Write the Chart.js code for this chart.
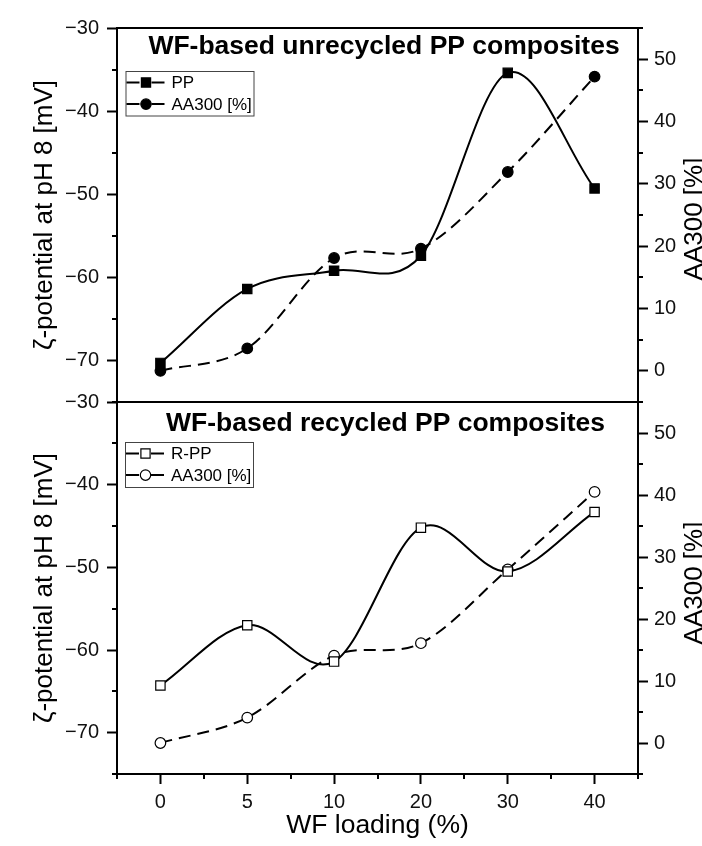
<!DOCTYPE html>
<html>
<head>
<meta charset="utf-8">
<script src="https://cdn.jsdelivr.net/npm/chart.js@4.4.0/dist/chart.umd.min.js"></script>
<style>
html,body{margin:0;padding:0;background:#fff;}
#wrap{position:relative;width:702px;height:846px;overflow:hidden;background:#fff;}
#wrap canvas{position:absolute;left:0;top:0;}
</style>
</head>
<body>
<div id="wrap">
<canvas id="cTop" width="702" height="846"></canvas>
<canvas id="cBot" width="702" height="846"></canvas>
</div>
<script>
// ---- data ----
const categories = ['0', '5', '10', '20', '30', '40'];
const ppZeta     = [-70.3, -61.4, -59.2, -57.4, -35.4, -49.3];
const ppAA300    = [0.0, 3.6, 18.1, 19.6, 31.9, 47.2];
const rppZeta    = [-64.3, -57.0, -61.4, -45.2, -50.5, -43.3];
const rppAA300   = [0.0, 4.1, 14.1, 16.1, 28.0, 40.5];

const zetaTicks  = [-70, -60, -50, -40, -30];
const aaTicks    = [0, 10, 20, 30, 40, 50];
const zetaMin = -75, zetaMax = -30;
const aaMin = -5, aaMax = 55;

const topTitle = 'WF-based unrecycled PP composites';
const botTitle = 'WF-based recycled PP composites';
const leftAxisTitle = 'ζ-potential at pH 8 [mV]';
const rightAxisTitle = 'AA300 [%]';
const xAxisTitle = 'WF loading (%)';
const topLegend = ['PP', 'AA300 [%]'];
const botLegend = ['R-PP', 'AA300 [%]'];

const FONT = '"Liberation Sans", Arial, Helvetica, sans-serif';
Chart.defaults.font.family = FONT;
Chart.defaults.color = '#000';

function fmtZeta(v) { return v < 0 ? '\u2212' + Math.abs(v) : String(v); }

// uniform Catmull-Rom style smoothing of the line drawn by Chart.js
const smoothPlugin = {
  id: 'smoothCR',
  beforeDatasetDraw(chart, args) {
    const meta = args.meta;
    const line = meta.dataset;
    const pts = meta.data;
    const n = pts.length;
    for (let i = 0; i < n; i++) {
      const p = pts[i];
      const prev = i > 0 ? pts[i - 1] : null;
      const next = i < n - 1 ? pts[i + 1] : null;
      let mx, my;
      if (prev && next) { mx = (next.x - prev.x) / 2; my = (next.y - prev.y) / 2; }
      else if (next) { mx = next.x - p.x; my = next.y - p.y; }
      else { mx = p.x - prev.x; my = p.y - prev.y; }
      p.cp1x = p.x - mx / 3; p.cp1y = p.y - my / 3;
      p.cp2x = p.x + mx / 3; p.cp2y = p.y + my / 3;
    }
    line._pointsUpdated = true;
    line._path = undefined;
  }
};

function drawMarker(ctx, style, filled, x, y) {
  ctx.save();
  ctx.lineWidth = 1.2;
  ctx.strokeStyle = '#000';
  ctx.fillStyle = filled ? '#000' : '#fff';
  ctx.beginPath();
  if (style === 'rect') {
    ctx.rect(x - 4.6, y - 4.6, 9.2, 9.2);
  } else {
    ctx.arc(x, y, 5.2, 0, Math.PI * 2);
  }
  ctx.fill();
  ctx.stroke();
  ctx.restore();
}

function makeDecor(cfg) {
  return {
    id: 'decor',
    afterDraw(chart) {
      const ctx = chart.ctx;
      const a = chart.chartArea;
      ctx.save();
      ctx.strokeStyle = '#000';
      ctx.lineWidth = 2;
      ctx.beginPath();
      ctx.moveTo(a.left - 1, Math.round(a.top));
      ctx.lineTo(a.right + 1, Math.round(a.top));
      if (cfg.drawBottomLine) {
        ctx.moveTo(a.left - 1, Math.round(a.bottom));
        ctx.lineTo(a.right + 1, Math.round(a.bottom));
      }
      ctx.stroke();

      // minor ticks on y axes
      ctx.lineWidth = 2;
      ['yL', 'yR'].forEach(id => {
        const s = chart.scales[id];
        for (let v = Math.ceil(s.min / 5) * 5; v <= s.max + 1e-9; v += 5) {
          if (Math.abs(v % 10) < 1e-9) continue;
          const y = Math.round(s.getPixelForValue(v));
          ctx.beginPath();
          if (id === 'yL') { ctx.moveTo(a.left, y); ctx.lineTo(a.left - 5, y); }
          else { ctx.moveTo(a.right, y); ctx.lineTo(a.right + 5, y); }
          ctx.stroke();
        }
      });
      // minor ticks on x axis
      if (cfg.xMinor) {
        const sx = chart.scales.x;
        for (let i = -1; i < categories.length; i++) {
          const x = Math.round(sx.getPixelForValue(i + 0.5));
          ctx.beginPath();
          ctx.moveTo(x, a.bottom);
          ctx.lineTo(x, a.bottom + 5);
          ctx.stroke();
        }
      }

      // panel title
      ctx.fillStyle = '#000';
      ctx.font = 'bold 26.5px ' + FONT;
      ctx.textAlign = 'center';
      ctx.textBaseline = 'alphabetic';
      ctx.fillText(cfg.title, cfg.titleX, cfg.titleY);

      // legend
      const L = cfg.legend;
      ctx.fillStyle = '#fff';
      ctx.fillRect(L.x, L.y, L.w, L.h);
      ctx.strokeStyle = '#444';
      ctx.lineWidth = 1;
      ctx.strokeRect(L.x + 0.5, L.y + 0.5, L.w, L.h);
      ctx.font = '17px ' + FONT;
      ctx.textAlign = 'left';
      ctx.textBaseline = 'middle';
      L.items.forEach((it, k) => {
        const yy = L.y + 11.5 + k * 21.6;
        ctx.strokeStyle = '#000';
        ctx.lineWidth = 2;
        ctx.beginPath();
        ctx.moveTo(L.x + 1, yy); ctx.lineTo(L.x + 14, yy);
        ctx.moveTo(L.x + 26, yy); ctx.lineTo(L.x + 39, yy);
        ctx.stroke();
        drawMarker(ctx, it.style, it.filled, L.x + 20.5, yy);
        ctx.fillStyle = '#000';
        ctx.fillText(it.text, L.x + 46, yy + 1);
      });

      // axis titles
      ctx.font = '26px ' + FONT;
      ctx.textAlign = 'center';
      ctx.textBaseline = 'alphabetic';
      ctx.save();
      ctx.translate(52, cfg.leftTitleY);
      ctx.rotate(-Math.PI / 2);
      ctx.fillText(leftAxisTitle, 0, 0);
      ctx.restore();
      ctx.save();
      ctx.translate(701.5, cfg.rightTitleY);
      ctx.rotate(-Math.PI / 2);
      ctx.fillText(rightAxisTitle, 0, 0);
      ctx.restore();
      if (cfg.xTitle) {
        ctx.font = '26.5px ' + FONT;
        ctx.fillText(xAxisTitle, (a.left + a.right) / 2, 833);
      }
      ctx.restore();
    }
  };
}

function yScales() {
  return {
    yL: {
      type: 'linear', position: 'left', min: zetaMin, max: zetaMax,
      afterBuildTicks: s => { s.ticks = zetaTicks.map(v => ({ value: v })); },
      afterFit: s => { s.width = 117; },
      border: { display: true, color: '#000', width: 2 },
      grid: { drawOnChartArea: false, drawTicks: true, tickLength: 10, tickWidth: 2, tickColor: '#000', color: '#000' },
      ticks: { font: { size: 20 }, color: '#111', padding: 8, callback: v => fmtZeta(v) }
    },
    yR: {
      type: 'linear', position: 'right', min: aaMin, max: aaMax,
      afterBuildTicks: s => { s.ticks = aaTicks.map(v => ({ value: v })); },
      afterFit: s => { s.width = 64; },
      border: { display: true, color: '#000', width: 2 },
      grid: { drawOnChartArea: false, drawTicks: true, tickLength: 10, tickWidth: 2, tickColor: '#000', color: '#000' },
      ticks: { font: { size: 20 }, color: '#111', padding: 6, callback: v => String(v) }
    }
  };
}

function lineDatasets(zeta, aa, filled, names) {
  const fill = filled ? '#000' : '#fff';
  return [
    {
      label: names[0], data: zeta, yAxisID: 'yL',
      borderColor: '#000', borderWidth: 2, tension: 0.4,
      pointStyle: 'rect', pointRadius: 6.6, pointBackgroundColor: fill,
      pointBorderColor: '#000', pointBorderWidth: 1.2, order: 1
    },
    {
      label: names[1], data: aa, yAxisID: 'yR',
      borderColor: '#000', borderWidth: 2, borderDash: [12, 7], tension: 0.4,
      pointStyle: 'circle', pointRadius: 5.3, pointBackgroundColor: fill,
      pointBorderColor: '#000', pointBorderWidth: 1.2, order: 2
    }
  ];
}

const common = {
  responsive: false, animation: false, devicePixelRatio: 1, events: [],
  plugins: { legend: { display: false }, tooltip: { enabled: false }, title: { display: false } }
};

// top panel
new Chart(document.getElementById('cTop'), {
  type: 'line',
  data: { labels: categories, datasets: lineDatasets(ppZeta, ppAA300, true, topLegend) },
  options: Object.assign({}, common, {
    layout: { padding: { top: 28, bottom: 444, left: 0, right: 0 } },
    scales: Object.assign({
      x: { type: 'category', offset: true, display: false }
    }, yScales())
  }),
  plugins: [smoothPlugin, makeDecor({
    title: topTitle, titleX: 384, titleY: 53.5,
    drawBottomLine: true, xMinor: false, xTitle: false,
    leftTitleY: 215, rightTitleY: 219,
    legend: { x: 125.5, y: 71, w: 128, h: 44.5,
      items: [{ text: topLegend[0], style: 'rect', filled: true }, { text: topLegend[1], style: 'circle', filled: true }] }
  })]
});

// bottom panel
new Chart(document.getElementById('cBot'), {
  type: 'line',
  data: { labels: categories, datasets: lineDatasets(rppZeta, rppAA300, false, botLegend) },
  options: Object.assign({}, common, {
    layout: { padding: { top: 402, bottom: 0, left: 0, right: 0 } },
    scales: Object.assign({
      x: {
        type: 'category', offset: true, position: 'bottom',
        afterFit: s => { s.height = 72; },
        border: { display: true, color: '#000', width: 2 },
        grid: { offset: false, drawOnChartArea: false, drawTicks: true, tickLength: 10, tickWidth: 2, tickColor: '#000', color: '#000' },
        ticks: { font: { size: 20 }, color: '#111', padding: 6, maxRotation: 0, autoSkip: false }
      }
    }, yScales())
  }),
  plugins: [smoothPlugin, makeDecor({
    title: botTitle, titleX: 385.5, titleY: 430.5,
    drawBottomLine: false, xMinor: true, xTitle: true,
    leftTitleY: 588, rightTitleY: 583,
    legend: { x: 125, y: 442, w: 128, h: 45,
      items: [{ text: botLegend[0], style: 'rect', filled: false }, { text: botLegend[1], style: 'circle', filled: false }] }
  })]
});
</script>
</body>
</html>
